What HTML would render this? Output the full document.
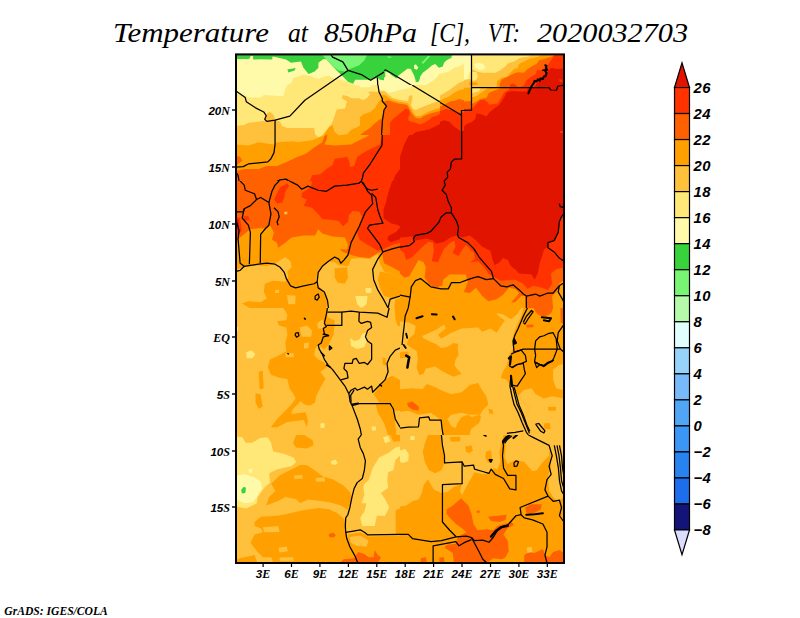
<!DOCTYPE html>
<html><head><meta charset="utf-8"><title>Temperature at 850hPa</title>
<style>
html,body{margin:0;padding:0;background:#fff;}
body{width:800px;height:618px;overflow:hidden;font-family:"Liberation Sans",sans-serif;}
svg{display:block;}
.title{font-family:"Liberation Serif",serif;font-style:italic;font-size:27.5px;fill:#000;}
.cbl{font-family:"Liberation Sans",sans-serif;font-style:italic;font-weight:bold;font-size:14.8px;fill:#000;letter-spacing:0.4px;}
.axl{font-family:"Liberation Sans",sans-serif;font-style:italic;font-weight:bold;font-size:11.6px;fill:#000;}
.axs{font-family:"Liberation Serif",serif;font-style:italic;font-weight:bold;font-size:12px;}
.foot{font-family:"Liberation Serif",serif;font-style:italic;font-weight:bold;font-size:12px;fill:#000;}
</style></head>
<body>
<svg width="800" height="618" viewBox="0 0 800 618" shape-rendering="geometricPrecision">
<rect x="0" y="0" width="800" height="618" fill="#ffffff"/>
<g class="title">
<text x="113" y="42" textLength="156" lengthAdjust="spacingAndGlyphs">Temperature</text>
<text x="288" y="42" textLength="20" lengthAdjust="spacingAndGlyphs">at</text>
<text x="324" y="42" textLength="93" lengthAdjust="spacingAndGlyphs">850hPa</text>
<text x="430" y="42" textLength="40" lengthAdjust="spacingAndGlyphs">[C],</text>
<text x="488" y="42" textLength="32" lengthAdjust="spacingAndGlyphs">VT:</text>
<text x="537" y="42" textLength="151" lengthAdjust="spacingAndGlyphs">2020032703</text>
</g>
<defs><clipPath id="mapclip"><rect x="235.5" y="54.5" width="328.5" height="508.5"/></clipPath></defs>
<g clip-path="url(#mapclip)">
<clipPath id="c0"><rect x="0" y="0" width="798" height="618.0"/></clipPath>
<g transform="translate(236,54) scale(0.20551)" clip-path="url(#c0)">
<rect x="-2" y="-2" width="802" height="622.0" fill="#fffaaa"/>
<polygon fill="#ffe878" points="0,190 40,200 60,212 120,212 135,200 230,205 240,170 250,150 270,140 280,115 330,100 350,105 400,120 430,110 450,105 480,120 510,125 540,135 580,150 600,155 650,150 690,160 700,175 720,180 750,195 780,185 798,180 798,618 0,618"/>
<polygon fill="#ffc03c" points="0,350 40,345 60,335 140,325 150,290 165,280 185,300 190,320 215,330 225,350 250,360 380,360 385,390 400,405 420,395 440,370 460,350 470,330 480,300 490,270 530,265 540,230 515,215 520,200 545,205 560,215 620,215 650,205 660,185 690,185 700,195 798,195 798,618 0,618"/>
<polygon fill="#ffa000" points="0,440 60,445 110,430 180,440 200,430 280,425 300,430 370,420 400,408 425,398 440,375 455,352 470,347 480,380 500,395 540,390 560,370 600,350 640,320 660,290 690,260 700,205 798,205 798,618 0,618"/>
<polygon fill="#ff6000" points="0,495 20,500 30,520 10,535 0,540"/>
<polygon fill="#ff6000" points="0,570 40,560 110,560 150,545 200,545 260,520 300,500 340,485 380,455 420,430 430,400 445,390 440,420 430,440 480,445 560,440 600,420 640,400 680,370 710,330 720,290 730,240 740,218 798,222 798,618 0,618"/>
<polygon fill="#ff3200" points="360,618 370,590 410,585 440,560 470,540 480,510 520,505 540,500 550,520 555,550 575,545 590,500 620,480 640,470 700,440 710,400 730,330 745,290 760,250 775,235 798,245 798,618"/>
<polygon fill="#e11400" points="765,618 775,590 790,570 798,560 798,618"/>
<polygon fill="#37d23c" points="0,0 0,24 64,24 72,10 82,9 84,27 120,25 176,27 178,12 190,14 243,27 268,43 316,36 328,67 353,97 383,85 401,67 401,43 426,24 440,25 470,60 500,90 520,110 545,135 570,145 580,125 620,125 650,125 690,115 700,125 720,128 725,100 740,80 760,85 780,100 798,110 798,0"/>
<polygon fill="#37d23c" points="250,75 290,68 285,80 255,90"/>
<polygon fill="#78f573" points="415,0 440,25 470,60 500,80 530,85 545,75 560,70 600,55 625,30 640,0"/>
<polyline fill="none" stroke="#000" stroke-width="6.1" stroke-linejoin="round" points="0,180 45,212 50,232 95,262 135,282 147,300 140,318 150,328 190,322 262,302 335,225 545,80"/>
<polyline fill="none" stroke="#000" stroke-width="6.1" stroke-linejoin="round" points="190,322 190,440 185,480 170,510 155,525 60,535 35,548 0,550"/>
<polyline fill="none" stroke="#000" stroke-width="6.1" stroke-linejoin="round" points="460,0 470,15 520,38 545,80 610,100 655,128 730,82 798,115"/>
<polyline fill="none" stroke="#000" stroke-width="6.1" stroke-linejoin="round" points="688,115 690,160 720,240 730,258 715,300 710,445 650,540 620,580 615,605 610,618"/>
<polyline fill="none" stroke="#000" stroke-width="6.1" stroke-linejoin="round" points="0,575 10,590 15,618"/>
<polyline fill="none" stroke="#000" stroke-width="6.1" stroke-linejoin="round" points="195,622 215,612 243,609 262,620"/>
</g>
<clipPath id="c1"><rect x="0" y="0" width="798" height="618.0"/></clipPath>
<g transform="translate(400,54) scale(0.20551)" clip-path="url(#c1)">
<rect x="-2" y="-2" width="802" height="622.0" fill="#e11400"/>
<polygon fill="#ff3200" points="0,500 20,440 40,400 60,380 130,365 180,340 210,320 250,330 265,365 300,345 340,335 370,320 375,290 400,300 420,300 440,280 480,250 510,220 520,190 540,170 620,165 640,150 680,120 700,100 798,100 798,0 0,0"/>
<polygon fill="#ff6000" points="0,265 20,275 35,300 45,330 90,345 130,335 180,310 240,290 290,285 300,260 348,250 370,225 420,215 440,195 500,170 520,165 550,130 580,110 620,90 660,70 690,50 720,30 740,10 745,0 0,0"/>
<polygon fill="#ffa000" points="0,245 20,260 40,295 55,320 100,322 150,300 200,275 240,250 280,225 300,215 320,200 345,185 350,210 400,195 440,175 480,165 520,135 540,105 570,85 600,70 640,45 660,25 690,10 700,0 0,0"/>
<polygon fill="#ffc03c" points="0,235 25,250 45,285 60,305 100,305 150,285 200,255 230,230 270,205 300,190 330,160 348,150 350,195 390,185 420,170 480,135 500,120 520,90 550,80 570,50 600,30 640,15 650,0 0,0"/>
<polygon fill="#ffe878" points="0,225 30,240 50,275 65,295 100,290 150,265 200,235 215,215 250,190 290,165 330,140 348,130 380,125 385,105 410,90 470,85 500,60 520,40 540,20 560,10 570,0 0,0"/>
<polygon fill="#fffaaa" points="0,170 30,180 45,200 40,240 55,265 70,278 100,272 150,245 180,215 210,195 250,170 290,140 330,125 348,115 348,0 0,0"/>
<polygon fill="#37d23c" points="0,0 250,0 245,20 215,45 210,60 185,65 150,60 130,75 105,80 110,100 95,110 90,135 75,135 70,105 50,85 45,70 0,90"/>
<polygon fill="#78f573" points="100,35 145,5 155,10 110,42"/>
<polygon fill="#ff3200" points="775,360 798,345 798,385 780,385"/>
<polyline fill="none" stroke="#000" stroke-width="6.1" stroke-linejoin="round" points="0,118 300,295"/>
<polyline fill="none" stroke="#000" stroke-width="6.1" stroke-linejoin="round" points="348,0 348,272 300,275 300,295 300,510 265,512 250,525 245,560 230,575 232,600 215,618"/>
<polyline fill="none" stroke="#000" stroke-width="6.1" stroke-linejoin="round" points="348,160 735,160 745,175 765,175 770,155 798,150"/>
</g>
<clipPath id="c2"><rect x="0" y="0" width="798" height="618.0"/></clipPath>
<g transform="translate(236,181) scale(0.20551)" clip-path="url(#c2)">
<rect x="-2" y="-2" width="802" height="622.0" fill="#ff6000"/>
<polygon fill="#ff3200" points="370,0 365,30 340,45 320,60 320,80 345,90 330,120 370,130 400,160 420,185 470,190 500,195 520,220 545,200 550,165 570,145 600,150 615,175 600,210 590,250 600,285 640,310 690,340 720,330 760,310 798,300 798,0"/>
<polygon fill="#e11400" points="760,0 740,60 730,102 718,139 718,181 754,206 791,215 800,224 779,248 742,266 736,285 754,297 791,285 800,283 800,0"/>
<polygon fill="#ff3200" points="200,110 185,90 200,60 215,30 250,12 258,25 240,50 235,80 225,105"/>
<polygon fill="#ff3200" points="35,172 60,170 65,190 40,195"/>
<polygon fill="#ff3200" points="0,175 20,180 28,240 15,260 0,262"/>
<polygon fill="#e11400" points="0,185 12,188 15,235 0,240"/>
<polygon fill="#ffa000" points="0,300 15,280 20,275 70,235 110,230 150,230 165,215 185,250 175,285 200,300 205,325 240,300 270,275 330,265 385,265 400,235 420,255 470,270 530,275 545,310 540,335 505,330 520,345 560,360 600,370 650,375 690,350 710,345 720,400 760,420 798,440 798,618 0,618"/>
<polygon fill="#ffc03c" points="0,430 40,420 100,410 150,415 200,395 240,370 265,390 270,420 250,440 255,470 240,490 180,485 140,500 135,540 150,570 120,590 60,585 20,600 0,590"/>
<polygon fill="#ffc03c" points="400,440 420,410 450,390 480,395 500,410 545,415 560,380 600,375 650,380 690,355 700,400 720,440 760,450 798,470 798,618 440,618 445,580 430,540 400,510 390,480"/>
<polygon fill="#ffa000" points="480,425 540,420 545,470 530,500 495,495 480,470"/>
<polygon fill="#ffa000" points="700,440 760,450 798,470 798,560 760,570 720,560 700,520 690,480"/>
<polygon fill="#ffe878" points="580,560 640,560 635,600 610,618 590,600"/>
<polygon fill="#ffe878" points="630,520 660,522 658,545 632,545"/>
<polygon fill="#ffc03c" points="248,555 290,558 288,598 255,600"/>
<polygon fill="#ffc03c" points="190,530 210,530 210,545 190,545"/>
<polygon fill="#ffc03c" points="235,150 250,150 250,162 235,162"/>
<polygon fill="#ffc03c" points="0,588 30,597 70,620 0,620"/>
<polygon fill="#ffa000" points="775,575 800,570 800,620 770,620"/>
<polyline fill="none" stroke="#000" stroke-width="6.1" stroke-linejoin="round" points="20,0 40,20 45,45 90,62 100,90 70,120 40,135 35,150 0,150"/>
<polyline fill="none" stroke="#000" stroke-width="6.1" stroke-linejoin="round" points="100,90 120,80 160,105 170,160 160,215 140,235 120,260 118,400"/>
<polyline fill="none" stroke="#000" stroke-width="6.1" stroke-linejoin="round" points="40,135 30,180 60,215 70,250 65,405"/>
<polyline fill="none" stroke="#000" stroke-width="6.1" stroke-linejoin="round" points="0,190 15,240 10,280 20,400 40,415"/>
<polyline fill="none" stroke="#000" stroke-width="6.1" stroke-linejoin="round" points="160,105 175,50 190,20 210,0"/>
<polyline fill="none" stroke="#000" stroke-width="6.1" stroke-linejoin="round" points="260,0 300,20 320,40 350,25 400,45 440,50 480,25 540,20 600,10 610,0"/>
<polyline fill="none" stroke="#000" stroke-width="6.1" stroke-linejoin="round" points="185,130 205,150 210,175 200,200 205,215"/>
<polyline fill="none" stroke="#000" stroke-width="6.1" stroke-linejoin="round" points="0,440 20,435 40,415 70,410 110,405 150,400 190,405 215,420 235,445 245,475 265,510 290,520 330,510 380,500 395,490 400,520 430,540 445,580 450,618"/>
<polyline fill="none" stroke="#000" stroke-width="6.1" stroke-linejoin="round" points="395,490 400,445 420,415 450,390 480,370 500,380 510,400 525,385 545,360 560,300 600,220 630,150 665,110 660,70 640,50 620,10 605,0"/>
<polyline fill="none" stroke="#000" stroke-width="6.1" stroke-linejoin="round" points="615,10 640,40 660,45 690,40"/>
<polyline fill="none" stroke="#000" stroke-width="6.1" stroke-linejoin="round" points="660,60 680,80 690,140 700,170 715,205 650,215 640,230 670,270 700,310 715,345 760,330 798,320"/>
<polyline fill="none" stroke="#000" stroke-width="6.1" stroke-linejoin="round" points="715,345 690,380 665,430 670,480 690,530 720,580 740,618 750,575 798,560"/>
<polyline fill="none" stroke="#000" stroke-width="6.1" stroke-linejoin="round" points="385,560 400,550 405,565 395,580 385,575 385,560"/>
</g>
<clipPath id="c3"><rect x="0" y="0" width="798" height="618.0"/></clipPath>
<g transform="translate(400,181) scale(0.20551)" clip-path="url(#c3)">
<rect x="-2" y="-2" width="802" height="622.0" fill="#e11400"/>
<polygon fill="#ff3200" points="0,275 60,270 75,290 130,280 160,290 175,305 215,295 245,275 275,265 300,275 340,265 370,290 400,320 440,340 450,380 460,410 485,395 500,375 525,385 540,415 560,430 580,450 640,455 655,480 670,450 680,400 690,370 700,335 720,320 715,300 750,290 770,250 775,200 790,170 798,165 798,618 0,618"/>
<polygon fill="#ff6000" points="0,335 20,350 30,385 60,370 90,340 120,310 140,295 160,300 165,340 155,390 185,395 200,360 215,330 245,300 265,290 270,320 255,350 285,365 300,340 320,310 340,330 360,350 365,380 340,395 380,390 410,420 430,450 460,470 490,485 560,480 600,500 620,525 650,510 690,520 720,530 740,500 735,450 760,430 798,420 798,618 0,618"/>
<polygon fill="#ffa000" points="0,450 20,470 45,465 70,420 90,385 115,395 125,420 120,470 140,500 170,520 205,510 210,480 240,455 320,455 330,490 320,520 310,540 340,545 370,520 400,560 430,585 470,575 500,555 530,520 560,525 580,545 560,570 540,590 560,590 590,560 610,560 610,618 0,618"/>
<polygon fill="#ffa000" points="745,618 740,560 760,540 775,500 798,480 798,618"/>
<polyline fill="none" stroke="#000" stroke-width="6.1" stroke-linejoin="round" points="215,0 220,20 205,45 225,65 235,100 250,130 250,155"/>
<polyline fill="none" stroke="#000" stroke-width="6.1" stroke-linejoin="round" points="250,155 225,155 200,175 190,200 150,245 130,255 75,265 65,280 70,295 45,315 0,322"/>
<polyline fill="none" stroke="#000" stroke-width="6.1" stroke-linejoin="round" points="250,155 275,195 285,225 280,260 285,275 330,300 360,330 385,370 410,400 445,440 455,475 490,510 520,515 550,505 580,530 600,550 615,560 660,550 680,560 720,545 745,545 775,510 798,495"/>
<polyline fill="none" stroke="#000" stroke-width="6.1" stroke-linejoin="round" points="455,475 420,480 380,465 360,470 330,480 290,495 250,495 235,525 200,525 150,515 120,490 100,475 75,485 55,515 50,560 40,618"/>
<polyline fill="none" stroke="#000" stroke-width="6.1" stroke-linejoin="round" points="0,555 50,565"/>
<polyline fill="none" stroke="#000" stroke-width="6.1" stroke-linejoin="round" points="615,560 615,618"/>
<polyline fill="none" stroke="#000" stroke-width="6.1" stroke-linejoin="round" points="775,110 780,125 798,130"/>
<polyline fill="none" stroke="#000" stroke-width="6.1" stroke-linejoin="round" points="798,160 785,175 775,200 770,250 750,290 720,300 720,325 750,345 775,375 798,390"/>
<polyline fill="none" stroke="#000" stroke-width="6.1" stroke-linejoin="round" points="775,510 770,540 790,575 798,590"/>
</g>
<clipPath id="c4"><rect x="0" y="0" width="798" height="618.0"/></clipPath>
<g transform="translate(236,308) scale(0.20551)" clip-path="url(#c4)">
<rect x="-2" y="-2" width="802" height="622.0" fill="#ffc03c"/>
<polygon fill="#ffa000" points="180,0 230,0 250,30 245,60 200,65 210,85 245,95 250,130 240,170 245,210 200,235 165,250 155,290 170,325 210,340 250,345 260,390 280,420 290,440 270,470 240,500 200,540 170,580 200,580 250,555 290,550 330,545 345,580 350,550 340,510 320,490 330,470 360,475 385,460 390,430 415,380 435,345 410,310 440,290 430,265 400,250 380,230 385,200 400,180 430,200 450,180 475,130 480,60 445,45 445,0"/>
<polygon fill="#ffc03c" points="310,95 345,85 370,110 365,140 320,140"/>
<polygon fill="#ffc03c" points="315,453 339,477 354,505 331,509 299,512 268,516 276,493 299,469"/>
<polygon fill="#ffc03c" points="330,172 355,168 352,195 332,198"/>
<polygon fill="#ffc03c" points="240,222 280,220 282,238 242,240"/>
<polygon fill="#ffc03c" points="395,75 420,55 430,75 425,100 400,100"/>
<polygon fill="#ffa000" points="110,310 130,305 135,390 115,395"/>
<polygon fill="#ffa000" points="95,415 120,420 130,480 110,490 95,460"/>
<polygon fill="#ffa000" points="670,420 700,380 740,340 760,330 798,350 798,500 770,500 760,470 700,465"/>
<polygon fill="#ffa000" points="680,470 750,468 770,520 780,618 740,618 720,560 690,510"/>
<polygon fill="#ffa000" points="712,240 728,245 730,280 715,275"/>
<polygon fill="#ffe878" points="555,145 575,160 600,155 615,125 630,120 640,150 625,190 590,200 560,185"/>
<polygon fill="#ffe878" points="50,215 75,205 95,225 80,245 52,245"/>
<polygon fill="#ffe878" points="410,562 430,560 432,582 412,585"/>
<polygon fill="#ffe878" points="660,577 680,575 682,595 662,597"/>
<polygon fill="#ffe878" points="0,90 10,92 10,112 0,112"/>
<polygon fill="#ffa000" points="772,0 800,0 800,90 785,85 775,50"/>
<polyline fill="none" stroke="#000" stroke-width="6.1" stroke-linejoin="round" points="445,0 440,30 430,75 440,90 425,100 430,125 450,135 425,140 415,170 400,180 405,200 420,225 430,250 450,280 470,300 500,340 530,380 550,420 555,455 565,475 590,540 605,590 610,618"/>
<polyline fill="none" stroke="#000" stroke-width="6.1" stroke-linejoin="round" points="445,20 515,20 515,85 440,85"/>
<polyline fill="none" stroke="#000" stroke-width="6.1" stroke-linejoin="round" points="515,20 560,15 600,20 690,25 735,45 745,0"/>
<polyline fill="none" stroke="#000" stroke-width="6.1" stroke-linejoin="round" points="600,20 598,65 610,75 640,65 655,70 660,95 640,110 630,140 640,160 660,175 660,250 640,275 625,265 600,270 585,245 570,250 565,270 530,270 525,295 540,310 545,340 510,350"/>
<polyline fill="none" stroke="#000" stroke-width="6.1" stroke-linejoin="round" points="550,415 560,400 580,390 590,400 625,385 640,395 660,380 665,410 700,375 725,350 740,310 735,270 750,235 775,205 798,195"/>
<polyline fill="none" stroke="#000" stroke-width="6.1" stroke-linejoin="round" points="575,400 558,425 560,460"/>
<polyline fill="none" stroke="#000" stroke-width="6.1" stroke-linejoin="round" points="565,475 600,465 750,465 765,490 775,540 798,580"/>
<polyline fill="none" stroke="#000" stroke-width="6.1" stroke-linejoin="round" points="290,122 303,120 306,135 295,142 288,132 290,122"/>
<polyline fill="none" stroke="#000" stroke-width="7.3" stroke-linejoin="round" stroke-linecap="round" points="333,50 337,54"/>
<polyline fill="none" stroke="#000" stroke-width="5.8" stroke-linejoin="round" stroke-linecap="round" points="252,222 256,224"/>
<polyline fill="none" stroke="#000" stroke-width="7.3" stroke-linejoin="round" stroke-linecap="round" points="455,185 466,195 455,203 455,185"/>
<polyline fill="none" stroke="#000" stroke-width="7.3" stroke-linejoin="round" stroke-linecap="round" points="700,372 708,380"/>
<polyline fill="none" stroke="#000" stroke-width="7.3" stroke-linejoin="round" stroke-linecap="round" points="425,128 450,134"/>
<polyline fill="none" stroke="#000" stroke-width="7.3" stroke-linejoin="round" stroke-linecap="round" points="415,218 430,232"/>
<polyline fill="none" stroke="#000" stroke-width="7.3" stroke-linejoin="round" stroke-linecap="round" points="440,278 458,288"/>
<polyline fill="none" stroke="#000" stroke-width="7.3" stroke-linejoin="round" stroke-linecap="round" points="565,468 595,464"/>
</g>
<clipPath id="c5"><rect x="0" y="0" width="798" height="618.0"/></clipPath>
<g transform="translate(400,308) scale(0.20551)" clip-path="url(#c5)">
<rect x="-2" y="-2" width="802" height="622.0" fill="#ffa000"/>
<polygon fill="#ffc03c" points="110,135 170,110 215,80 222,100 185,130 200,150 250,120 300,100 380,95 400,115 440,100 470,120 490,90 510,60 480,40 470,25 500,30 540,55 570,30 590,0 600,0 590,40 570,80 555,120 545,160 550,200 530,230 520,280 500,310 490,340 520,350 540,380 560,400 575,430 600,460 630,480 620,520 600,540 610,580 640,600 640,618 340,618 345,590 385,560 395,530 385,520 350,530 330,520 300,530 280,560 270,585 250,575 230,540 250,520 300,510 340,520 390,520 400,500 430,470 420,430 400,400 380,365 340,375 300,410 250,420 200,400 170,385 130,370 110,395 60,390 0,395 0,360 50,350 85,330 115,320 125,295 170,285 210,310 260,335 300,320 280,300 265,280 270,250 285,230 280,190 285,175 260,170 230,190 200,195 175,175 140,160 110,145"/>
<polygon fill="#ffc03c" points="0,66 43,71 76,88 70,127 43,149 32,176 54,193 81,209 87,248 81,292 98,336 85,345 0,365"/>
<polygon fill="#ffa000" points="0,215 40,212 45,240 0,245"/>
<polygon fill="#ffc03c" points="0,505 40,500 90,520 150,510 180,530 200,545 205,590 210,618 0,618"/>
<polygon fill="#ffc03c" points="575,430 600,400 640,390 660,420 700,440 740,430 798,440 798,618 640,618 640,600 610,580 600,540 620,520 630,480 600,460"/>
<polygon fill="#ffc03c" points="745,300 770,280 798,270 798,400 760,390 745,350"/>
<polygon fill="#ffa000" points="720,482 760,480 758,500 722,500"/>
<polygon fill="#ffa000" points="700,562 730,560 732,590 702,590"/>
<polygon fill="#ffa000" points="430,490 450,495 455,515 435,515"/>
<polygon fill="#ff6000" points="35,462 60,455 92,480 90,500 60,495 38,478"/>
<polygon fill="#ff6000" points="650,0 745,0 735,25 710,40 680,38 660,20"/>
<polygon fill="#ff6000" points="780,0 798,0 798,80 782,70"/>
<polygon fill="#ff6000" points="615,82 648,80 650,94 617,95"/>
<polyline fill="none" stroke="#000" stroke-width="6.1" stroke-linejoin="round" points="40,0 25,40 20,90 15,130 10,180"/>
<polyline fill="none" stroke="#000" stroke-width="6.1" stroke-linejoin="round" points="0,585 40,580 90,578 95,535 140,530 145,545 200,545 205,590 210,618"/>
<polyline fill="none" stroke="#000" stroke-width="6.1" stroke-linejoin="round" points="620,0 600,40 575,100 560,130 550,160 555,215"/>
<polyline fill="none" stroke="#000" stroke-width="6.1" stroke-linejoin="round" points="555,215 600,200 780,200 798,215"/>
<polyline fill="none" stroke="#000" stroke-width="6.1" stroke-linejoin="round" points="798,80 770,120 765,160 780,200"/>
<polyline fill="none" stroke="#000" stroke-width="6.1" stroke-linejoin="round" points="540,225 560,215 590,205 610,230 615,260 590,270 570,275 545,290 530,280"/>
<polyline fill="none" stroke="#000" stroke-width="6.1" stroke-linejoin="round" points="545,290 570,275 600,270 605,300 610,320 590,350 570,380 545,375 540,330"/>
<polyline fill="none" stroke="#000" stroke-width="6.1" stroke-linejoin="round" points="660,160 680,140 700,135 720,125 745,120 760,150 765,200 750,240 740,260 720,270 700,285 680,275 665,290 655,260 660,230 655,200 660,160"/>
<polyline fill="none" stroke="#000" stroke-width="6.1" stroke-linejoin="round" points="600,70 615,40 640,12 648,18 625,50 608,78 600,70"/>
<polyline fill="none" stroke="#000" stroke-width="6.1" stroke-linejoin="round" points="540,330 535,380 545,430 555,470 575,510 595,560 615,605 625,618"/>
<polyline fill="none" stroke="#000" stroke-width="6.1" stroke-linejoin="round" points="548,380 560,430 570,470 590,510 610,560 630,610"/>
<polyline fill="none" stroke="#000" stroke-width="6.1" stroke-linejoin="round" points="555,385 568,430 580,475 600,520 618,570 632,600"/>
<polyline fill="none" stroke="#000" stroke-width="6.1" stroke-linejoin="round" points="520,610 560,605 600,598"/>
<polyline fill="none" stroke="#000" stroke-width="6.1" stroke-linejoin="round" points="660,565 675,562 705,598 700,608 685,600 660,565"/>
<polyline fill="none" stroke="#000" stroke-width="12.2" stroke-linejoin="round" stroke-linecap="round" points="30,232 45,240 40,265 36,290"/>
<polyline fill="none" stroke="#000" stroke-width="9.7" stroke-linejoin="round" stroke-linecap="round" points="80,50 110,40"/>
<polyline fill="none" stroke="#000" stroke-width="9.7" stroke-linejoin="round" stroke-linecap="round" points="155,30 178,32"/>
<polyline fill="none" stroke="#000" stroke-width="9.7" stroke-linejoin="round" stroke-linecap="round" points="258,42 266,55"/>
<polyline fill="none" stroke="#000" stroke-width="8.8" stroke-linejoin="round" stroke-linecap="round" points="30,125 35,145"/>
<polyline fill="none" stroke="#000" stroke-width="8.8" stroke-linejoin="round" stroke-linecap="round" points="18,180 28,195"/>
<polyline fill="none" stroke="#000" stroke-width="10.7" stroke-linejoin="round" stroke-linecap="round" points="530,245 540,235 535,275"/>
<polyline fill="none" stroke="#000" stroke-width="10.7" stroke-linejoin="round" stroke-linecap="round" points="540,330 545,380"/>
<polyline fill="none" stroke="#000" stroke-width="8.8" stroke-linejoin="round" stroke-linecap="round" points="555,150 565,170 555,175 555,150"/>
<polyline fill="none" stroke="#000" stroke-width="9.7" stroke-linejoin="round" stroke-linecap="round" points="690,45 735,50 725,65 700,60"/>
<polyline fill="none" stroke="#000" stroke-width="7.8" stroke-linejoin="round" stroke-linecap="round" points="660,265 680,275 700,280 720,265 745,255"/>
</g>
<clipPath id="c6"><rect x="0" y="0" width="792" height="618.1"/></clipPath>
<g transform="translate(236,435) scale(0.20707)" clip-path="url(#c6)">
<rect x="-2" y="-2" width="796" height="622.1" fill="#ffc03c"/>
<polygon fill="#ffe878" points="0,7 31,11 47,38 78,38 117,15 152,11 168,34 180,80 230,90 280,110 290,130 270,150 200,165 160,185 165,230 140,250 105,300 100,330 50,355 0,345"/>
<polygon fill="#fffaaa" points="0,195 40,190 90,205 120,225 125,260 100,300 80,325 40,330 0,310"/>
<polygon fill="#fffaaa" points="62,165 78,163 78,182 62,182"/>
<polygon fill="#37d23c" points="25,265 38,250 48,255 45,280 28,282"/>
<polygon fill="#ffe878" points="620,235 640,220 660,160 690,110 740,85 770,60 792,55 792,100 770,120 760,170 735,180 730,220 735,255 700,280 720,310 740,350 720,390 680,390 670,440 610,440 600,400 620,370 630,330 605,330 620,290 615,255"/>
<polygon fill="#ffe878" points="460,125 480,118 492,135 478,145 460,140"/>
<polygon fill="#ffe878" points="710,10 735,5 745,30 720,40"/>
<polygon fill="#ffa000" points="145,340 160,300 190,270 170,235 210,195 260,170 310,145 340,145 380,170 420,200 470,215 520,245 550,275 560,300 550,330 540,360 500,338 450,325 400,318 350,312 310,328 290,310 240,300 200,320"/>
<polygon fill="#ffa000" points="90,420 120,395 200,390 260,378 330,362 400,352 450,358 490,378 525,408 530,460 545,520 570,570 585,618 180,618 170,590 130,590 100,560 70,520 90,480 130,470 120,450 90,440"/>
<polygon fill="#ffc03c" points="280,195 320,192 322,210 282,212"/>
<polygon fill="#ffc03c" points="385,208 428,205 430,225 388,226"/>
<polygon fill="#ffa000" points="290,0 330,0 370,25 375,50 340,65 290,60 275,40"/>
<polygon fill="#ffa000" points="0,600 40,590 90,580 100,610 100,618 0,618"/>
<polygon fill="#ffc03c" points="205,545 245,538 250,562 210,567"/>
<polygon fill="#ffc03c" points="210,592 275,590 280,608 212,610"/>
<polygon fill="#ffc03c" points="130,445 205,440 210,468 135,470"/>
<polygon fill="#ffa000" points="540,480 600,470 640,490 792,485 792,618 585,618 560,560 545,520"/>
<polygon fill="#ffc03c" points="548,492 600,485 640,510 630,540 580,535 555,520"/>
<polygon fill="#ff6000" points="500,618 520,600 570,595 590,565 620,575 640,590 665,590 670,555 685,580 700,590 690,610 680,618"/>
<polygon fill="#ff6000" points="448,478 470,472 482,485 470,495 450,492"/>
<polygon fill="#ffa000" points="770,365 792,355 792,485 772,478"/>
<polygon fill="#ffa000" points="745,0 792,0 792,30 760,32"/>
<polyline fill="none" stroke="#000" stroke-width="6.0" stroke-linejoin="round" points="605,0 590,20 600,60 615,90 625,125 620,170 610,210 585,230 570,260 560,300 550,350 540,385 530,400 528,440 530,470 535,500 550,540 575,585 588,618"/>
<polyline fill="none" stroke="#000" stroke-width="6.0" stroke-linejoin="round" points="530,470 560,465 600,458 620,470 635,482 792,480"/>
</g>
<clipPath id="c7"><rect x="0" y="0" width="792" height="618.1"/></clipPath>
<g transform="translate(400,435) scale(0.20707)" clip-path="url(#c7)">
<rect x="-2" y="-2" width="796" height="622.1" fill="#ffa000"/>
<polygon fill="#ffc03c" points="0,0 135,0 120,40 110,80 120,130 140,170 170,185 200,170 215,135 300,130 300,235 260,250 230,275 200,280 165,265 150,240 135,215 115,240 105,280 90,310 60,320 30,340 0,345"/>
<polygon fill="#ffc03c" points="200,0 500,0 490,40 480,80 485,130 470,165 450,160 440,180 400,190 360,180 340,215 320,250 300,290 290,270 300,235 300,130 215,135 215,100 200,50"/>
<polygon fill="#ffa000" points="240,10 290,8 292,30 245,32"/>
<polygon fill="#ffa000" points="315,55 345,50 352,75 335,88 318,80"/>
<polygon fill="#ffa000" points="415,80 440,75 445,120 425,135 412,110"/>
<polygon fill="#ffc03c" points="510,20 560,0 792,0 792,45 725,50 720,100 690,130 660,170 640,175 600,130 560,120 520,140 505,110 510,60"/>
<polygon fill="#ffc03c" points="725,50 792,40 792,300 760,320 740,300 720,270 715,200 730,150"/>
<polygon fill="#ffe878" points="0,75 25,68 42,90 40,125 15,135 0,130"/>
<polygon fill="#ffe878" points="50,6 70,5 70,24 50,24"/>
<polygon fill="#ff6000" points="225,360 255,340 295,305 330,340 345,380 355,430 375,460 420,455 450,460 470,440 500,430 540,420 550,435 520,450 500,480 520,510 525,560 510,590 490,600 450,595 420,618 260,618 255,570 215,545 225,530 270,525 280,490 300,480 320,470 300,450 270,430 240,400 225,380"/>
<polygon fill="#ff6000" points="425,395 470,390 515,385 510,410 480,420 440,415"/>
<polygon fill="#ff6000" points="605,350 630,335 685,335 680,360 640,380 610,375"/>
<polygon fill="#ff6000" points="600,618 600,580 625,565 650,570 690,550 700,580 720,590 740,565 770,555 792,570 792,618"/>
<polygon fill="#ffc03c" points="612,545 635,540 640,565 615,570"/>
<polygon fill="#ff6000" points="100,595 125,590 130,618 100,618"/>
<polygon fill="#ff6000" points="190,592 212,590 216,618 190,618"/>
<polygon fill="#ff6000" points="370,366 385,365 385,376 370,376"/>
<polyline fill="none" stroke="#000" stroke-width="6.0" stroke-linejoin="round" points="200,0 205,50 215,100 215,135 300,130 300,235 205,240 205,420 240,460 270,490"/>
<polyline fill="none" stroke="#000" stroke-width="6.0" stroke-linejoin="round" points="0,480 40,480 60,500 150,515 200,510 270,492 320,488 345,495 360,510 400,508 430,518 450,495 465,470 480,450 500,440 520,435 560,390 585,385"/>
<polyline fill="none" stroke="#000" stroke-width="6.0" stroke-linejoin="round" points="160,618 160,535 270,515 285,535 310,520 345,505"/>
<polyline fill="none" stroke="#000" stroke-width="6.0" stroke-linejoin="round" points="300,130 310,150 355,145 360,165 395,175 430,185 440,165 460,190 500,210 530,260 560,265 560,195 520,195 500,160 495,100 500,50 495,30"/>
<polyline fill="none" stroke="#000" stroke-width="6.0" stroke-linejoin="round" points="345,495 380,560 400,600 420,618"/>
<polyline fill="none" stroke="#000" stroke-width="6.0" stroke-linejoin="round" points="585,385 580,350 715,295 700,265 710,215 730,190 720,150 735,100 720,50 640,10 620,0"/>
<polyline fill="none" stroke="#000" stroke-width="6.0" stroke-linejoin="round" points="585,385 600,400 640,410 690,430 710,470 710,540 700,580 710,618"/>
<polyline fill="none" stroke="#000" stroke-width="6.0" stroke-linejoin="round" points="715,295 740,320 770,315 780,350 770,390 792,420"/>
<polyline fill="none" stroke="#000" stroke-width="6.0" stroke-linejoin="round" points="745,50 755,100 765,160 770,220 780,270 792,290"/>
<polyline fill="none" stroke="#000" stroke-width="6.0" stroke-linejoin="round" points="758,50 768,100 775,160 780,220 792,260"/>
<polyline fill="none" stroke="#000" stroke-width="6.0" stroke-linejoin="round" points="770,50 780,100 785,160 792,200"/>
<polyline fill="none" stroke="#000" stroke-width="6.0" stroke-linejoin="round" points="550,135 560,125 572,130 565,150 552,152 550,135"/>
<polyline fill="none" stroke="#000" stroke-width="6.0" stroke-linejoin="round" points="495,30 510,10 530,0"/>
<polyline fill="none" stroke="#000" stroke-width="6.0" stroke-linejoin="round" points="505,40 520,20 540,5"/>
<polyline fill="none" stroke="#000" stroke-width="12.1" stroke-linejoin="round" stroke-linecap="round" points="440,490 465,462 490,445 520,438"/>
<polyline fill="none" stroke="#000" stroke-width="9.7" stroke-linejoin="round" stroke-linecap="round" points="610,385 650,383 690,378"/>
<polyline fill="none" stroke="#000" stroke-width="10.6" stroke-linejoin="round" stroke-linecap="round" points="498,35 515,15 528,2"/>
<polyline fill="none" stroke="#000" stroke-width="9.7" stroke-linejoin="round" stroke-linecap="round" points="548,15 565,0"/>
<polyline fill="none" stroke="#000" stroke-width="8.7" stroke-linejoin="round" stroke-linecap="round" points="432,120 438,130 444,120 432,120"/>
<polyline fill="none" stroke="#000" stroke-width="7.7" stroke-linejoin="round" stroke-linecap="round" points="405,0 415,5"/>
</g>
<clipPath id="c8"><rect x="0" y="0" width="800" height="616.0"/></clipPath>
<g transform="translate(384,54) scale(0.12500)" clip-path="url(#c8)">
<rect x="-2" y="-2" width="804" height="620.0" fill="#fffaaa"/>
<polygon fill="#ffe878" points="0,285 30,300 60,305 100,290 150,280 200,270 260,285 300,290 330,280 345,240 380,220 420,190 440,160 480,150 520,140 560,110 600,100 640,80 680,60 700,50 800,50 800,616 0,616"/>
<polygon fill="#ffc03c" points="0,315 40,335 90,350 150,340 190,345 195,330 230,335 225,380 215,410 230,445 260,430 300,410 340,390 370,380 400,360 430,340 470,320 520,290 560,260 600,230 640,215 670,195 700,190 800,190 800,616 0,616"/>
<polygon fill="#ffa000" points="0,335 30,355 80,370 150,365 195,385 205,420 225,470 260,460 300,440 350,420 380,410 420,390 480,355 520,340 560,310 600,290 640,280 660,260 700,250 800,250 800,616 0,616"/>
<polygon fill="#ff6000" points="0,355 30,370 80,385 150,385 185,400 195,430 215,480 240,495 280,480 340,455 400,440 450,420 490,400 530,380 580,370 600,360 640,370 680,350 700,340 800,340 800,616 0,616"/>
<polygon fill="#ff3200" points="0,475 30,460 45,420 40,385 80,395 150,395 180,420 190,460 195,500 215,520 240,515 300,500 340,480 400,470 450,455 500,440 550,450 600,470 625,470 660,460 695,450 700,400 740,380 770,350 800,330 800,616 0,616"/>
<polygon fill="#e11400" points="300,616 330,590 380,580 430,550 480,530 520,540 560,580 590,600 610,616"/>
<polygon fill="#e11400" points="740,616 730,560 740,500 770,480 800,470 800,616"/>
<polygon fill="#37d23c" points="0,0 545,0 540,30 500,50 480,70 470,100 440,110 410,80 385,90 350,120 310,150 290,180 280,220 255,225 250,200 240,170 215,120 190,115 150,145 110,175 100,195 60,170 40,150 10,140 10,185 0,185"/>
<polygon fill="#fffaaa" points="240,90 255,82 275,110 262,125 242,118"/>
<polygon fill="#78f573" points="300,70 355,12 370,18 312,80"/>
<polygon fill="#78f573" points="30,18 60,22 55,32 28,28"/>
<polyline fill="none" stroke="#000" stroke-width="10.0" stroke-linejoin="round" points="0,132 15,128 620,490"/>
<polyline fill="none" stroke="#000" stroke-width="10.0" stroke-linejoin="round" points="698,0 698,450 620,452 620,616"/>
<polyline fill="none" stroke="#000" stroke-width="10.0" stroke-linejoin="round" points="698,268 800,268"/>
<polyline fill="none" stroke="#000" stroke-width="10.0" stroke-linejoin="round" points="0,395 15,410 20,430 10,450 0,455"/>
</g>
<clipPath id="c9"><rect x="0" y="0" width="800" height="616.0"/></clipPath>
<g transform="translate(464,54) scale(0.12500)" clip-path="url(#c9)">
<rect x="-2" y="-2" width="804" height="620.0" fill="#ffe878"/>
<polygon fill="#fffaaa" points="80,80 110,70 150,78 168,100 160,122 120,128 90,110"/>
<polygon fill="#fffaaa" points="0,0 57,0 57,140 40,150 30,200 0,210"/>
<polygon fill="#ffc03c" points="0,205 57,200 60,130 80,125 100,140 150,150 250,150 290,130 330,100 350,75 400,60 450,30 520,20 530,10 800,10 800,616 0,616"/>
<polygon fill="#ffe878" points="62,140 100,145 112,180 95,210 62,215"/>
<polygon fill="#ffe878" points="62,272 135,272 120,295 80,310 62,315"/>
<polygon fill="#ffa000" points="40,228 105,225 110,245 45,250"/>
<polygon fill="#ffa000" points="0,270 57,268 62,345 100,335 140,305 170,285 200,270 260,268 265,215 300,190 350,180 370,150 400,120 430,110 440,80 480,60 520,40 600,20 610,10 800,10 800,616 0,616"/>
<polygon fill="#ff6000" points="0,380 57,375 62,400 100,380 130,360 180,350 200,310 250,290 300,270 285,268 285,240 300,205 340,185 380,165 400,155 430,145 480,150 500,125 540,100 580,80 600,50 640,40 700,20 720,10 800,10 800,616 0,616"/>
<polygon fill="#ff3200" points="0,440 57,435 62,440 100,400 130,370 160,365 190,385 200,405 270,395 290,360 320,310 350,290 370,270 365,262 372,242 400,235 420,255 440,268 480,250 500,210 540,180 575,160 585,130 620,130 660,100 690,60 710,30 725,10 800,10 800,616 0,616"/>
<polygon fill="#e11400" points="800,115 740,120 700,110 680,125 660,150 640,165 600,215 580,240 560,268 510,275 500,300 440,300 380,295 340,310 320,350 280,410 250,430 200,470 180,500 130,480 100,475 90,520 60,545 20,560 0,580 0,616 800,616"/>
<polygon fill="#ff3200" points="760,200 785,205 790,225 765,222"/>
<polyline fill="none" stroke="#000" stroke-width="10.0" stroke-linejoin="round" points="60,0 60,450 0,452"/>
<polyline fill="none" stroke="#000" stroke-width="10.0" stroke-linejoin="round" points="60,268 680,268 695,288 740,290 750,258 800,248"/>
<polyline fill="none" stroke="#000" stroke-width="16.0" stroke-linejoin="round" stroke-linecap="round" points="515,315 530,280 545,250 560,230 565,215 580,220 590,205 605,212 612,195 630,200 640,180 655,175 660,150 650,135 665,125 655,110 660,95 650,90"/>
<polyline fill="none" stroke="#000" stroke-width="12.0" stroke-linejoin="round" stroke-linecap="round" points="630,130 665,125"/>
<polyline fill="none" stroke="#000" stroke-width="12.0" stroke-linejoin="round" stroke-linecap="round" points="590,200 605,215"/>
</g>
<clipPath id="c10"><rect x="0" y="0" width="800" height="500.0"/></clipPath>
<g transform="translate(360,85) scale(0.10000)" clip-path="url(#c10)">
<rect x="-2" y="-2" width="804" height="504.0" fill="#ffe878"/>
<polygon fill="#fffaaa" points="185,0 520,0 500,30 450,40 400,50 330,70 290,80 260,65 240,50 200,55"/>
<polygon fill="#fffaaa" points="0,0 130,0 100,20 0,25"/>
<polygon fill="#ffc03c" points="0,140 40,150 80,120 100,90 80,70 110,65 180,70 200,60 250,65 280,95 330,130 400,150 480,160 490,110 520,100 525,130 510,200 530,240 560,250 600,230 650,210 700,190 760,170 800,150 800,500 0,500"/>
<polygon fill="#ffa000" points="0,320 40,290 100,270 150,230 180,180 200,150 215,110 230,100 260,105 290,130 330,150 380,165 440,175 480,185 500,220 520,250 540,290 560,310 600,310 650,285 700,260 760,240 800,230 800,500 0,500"/>
<polygon fill="#ff6000" points="0,500 40,470 100,430 140,390 190,350 225,330 235,260 255,230 262,210 240,180 250,160 290,155 330,170 380,185 430,190 470,200 490,230 510,270 530,300 560,330 600,335 640,310 700,285 760,270 800,260 800,500"/>
<polygon fill="#ff3200" points="300,500 300,380 330,340 380,300 430,260 460,235 490,250 500,290 480,330 490,360 530,370 560,380 600,395 640,380 690,350 720,320 760,310 800,290 800,500"/>
<polygon fill="#e11400" points="520,500 560,470 640,455 700,440 760,410 800,390 800,500"/>
<polyline fill="none" stroke="#000" stroke-width="12.5" stroke-linejoin="round" points="180,0 190,70 225,140 222,160 265,212 240,250 225,350 215,500"/>
<polyline fill="none" stroke="#000" stroke-width="12.5" stroke-linejoin="round" points="520,0 800,170"/>
</g>
</g>
<rect x="236" y="54.4" width="328" height="508.6" fill="none" stroke="#000" stroke-width="2"/>
<line x1="232" y1="110" x2="236" y2="110" stroke="#000" stroke-width="1.4"/>
<text x="230" y="114.5" class="axl" text-anchor="end">20<tspan class="axs">N</tspan></text>
<line x1="232" y1="167" x2="236" y2="167" stroke="#000" stroke-width="1.4"/>
<text x="230" y="171.5" class="axl" text-anchor="end">15<tspan class="axs">N</tspan></text>
<line x1="232" y1="224" x2="236" y2="224" stroke="#000" stroke-width="1.4"/>
<text x="230" y="228.5" class="axl" text-anchor="end">10<tspan class="axs">N</tspan></text>
<line x1="232" y1="281" x2="236" y2="281" stroke="#000" stroke-width="1.4"/>
<text x="230" y="285.5" class="axl" text-anchor="end">5<tspan class="axs">N</tspan></text>
<line x1="232" y1="337" x2="236" y2="337" stroke="#000" stroke-width="1.4"/>
<text x="230" y="341.5" class="axl" text-anchor="end"><tspan class="axs">EQ</tspan></text>
<line x1="232" y1="394" x2="236" y2="394" stroke="#000" stroke-width="1.4"/>
<text x="230" y="398.5" class="axl" text-anchor="end">5<tspan class="axs">S</tspan></text>
<line x1="232" y1="451" x2="236" y2="451" stroke="#000" stroke-width="1.4"/>
<text x="230" y="455.5" class="axl" text-anchor="end">10<tspan class="axs">S</tspan></text>
<line x1="232" y1="507" x2="236" y2="507" stroke="#000" stroke-width="1.4"/>
<text x="230" y="511.5" class="axl" text-anchor="end">15<tspan class="axs">S</tspan></text>
<line x1="263.1" y1="563" x2="263.1" y2="567" stroke="#000" stroke-width="1.2"/>
<text x="263.1" y="577.7" class="axl" text-anchor="middle">3<tspan class="axs">E</tspan></text>
<line x1="291.5" y1="563" x2="291.5" y2="567" stroke="#000" stroke-width="1.2"/>
<text x="291.5" y="577.7" class="axl" text-anchor="middle">6<tspan class="axs">E</tspan></text>
<line x1="319.9" y1="563" x2="319.9" y2="567" stroke="#000" stroke-width="1.2"/>
<text x="319.9" y="577.7" class="axl" text-anchor="middle">9<tspan class="axs">E</tspan></text>
<line x1="348.4" y1="563" x2="348.4" y2="567" stroke="#000" stroke-width="1.2"/>
<text x="348.4" y="577.7" class="axl" text-anchor="middle">12<tspan class="axs">E</tspan></text>
<line x1="376.8" y1="563" x2="376.8" y2="567" stroke="#000" stroke-width="1.2"/>
<text x="376.8" y="577.7" class="axl" text-anchor="middle">15<tspan class="axs">E</tspan></text>
<line x1="405.2" y1="563" x2="405.2" y2="567" stroke="#000" stroke-width="1.2"/>
<text x="405.2" y="577.7" class="axl" text-anchor="middle">18<tspan class="axs">E</tspan></text>
<line x1="433.6" y1="563" x2="433.6" y2="567" stroke="#000" stroke-width="1.2"/>
<text x="433.6" y="577.7" class="axl" text-anchor="middle">21<tspan class="axs">E</tspan></text>
<line x1="462.0" y1="563" x2="462.0" y2="567" stroke="#000" stroke-width="1.2"/>
<text x="462.0" y="577.7" class="axl" text-anchor="middle">24<tspan class="axs">E</tspan></text>
<line x1="490.5" y1="563" x2="490.5" y2="567" stroke="#000" stroke-width="1.2"/>
<text x="490.5" y="577.7" class="axl" text-anchor="middle">27<tspan class="axs">E</tspan></text>
<line x1="518.9" y1="563" x2="518.9" y2="567" stroke="#000" stroke-width="1.2"/>
<text x="518.9" y="577.7" class="axl" text-anchor="middle">30<tspan class="axs">E</tspan></text>
<line x1="547.3" y1="563" x2="547.3" y2="567" stroke="#000" stroke-width="1.2"/>
<text x="547.3" y="577.7" class="axl" text-anchor="middle">33<tspan class="axs">E</tspan></text>
<rect x="674.5" y="87.50" width="15.0" height="26.03" fill="#ff3200" stroke="#000" stroke-width="1.2"/>
<rect x="674.5" y="113.53" width="15.0" height="26.03" fill="#ff6000" stroke="#000" stroke-width="1.2"/>
<rect x="674.5" y="139.56" width="15.0" height="26.03" fill="#ffa000" stroke="#000" stroke-width="1.2"/>
<rect x="674.5" y="165.59" width="15.0" height="26.03" fill="#ffc03c" stroke="#000" stroke-width="1.2"/>
<rect x="674.5" y="191.62" width="15.0" height="26.03" fill="#ffe878" stroke="#000" stroke-width="1.2"/>
<rect x="674.5" y="217.65" width="15.0" height="26.03" fill="#fffaaa" stroke="#000" stroke-width="1.2"/>
<rect x="674.5" y="243.68" width="15.0" height="26.03" fill="#37d23c" stroke="#000" stroke-width="1.2"/>
<rect x="674.5" y="269.71" width="15.0" height="26.03" fill="#78f573" stroke="#000" stroke-width="1.2"/>
<rect x="674.5" y="295.74" width="15.0" height="26.03" fill="#b4faaa" stroke="#000" stroke-width="1.2"/>
<rect x="674.5" y="321.77" width="15.0" height="26.03" fill="#e1ffff" stroke="#000" stroke-width="1.2"/>
<rect x="674.5" y="347.80" width="15.0" height="26.03" fill="#96d2fa" stroke="#000" stroke-width="1.2"/>
<rect x="674.5" y="373.83" width="15.0" height="26.03" fill="#78b9fa" stroke="#000" stroke-width="1.2"/>
<rect x="674.5" y="399.86" width="15.0" height="26.03" fill="#50a5f5" stroke="#000" stroke-width="1.2"/>
<rect x="674.5" y="425.89" width="15.0" height="26.03" fill="#3c96f5" stroke="#000" stroke-width="1.2"/>
<rect x="674.5" y="451.92" width="15.0" height="26.03" fill="#2882f0" stroke="#000" stroke-width="1.2"/>
<rect x="674.5" y="477.95" width="15.0" height="26.03" fill="#1e6eeb" stroke="#000" stroke-width="1.2"/>
<rect x="674.5" y="503.98" width="15.0" height="26.03" fill="#141478" stroke="#000" stroke-width="1.2"/>
<polygon points="674.5,87.5 682.0,62.8 689.5,87.5" fill="#e11400" stroke="#000" stroke-width="1.2" stroke-linejoin="miter"/>
<polygon points="674.5,530.01 682.0,554.71 689.5,530.01" fill="#dcdcff" stroke="#000" stroke-width="1.2"/>
<text x="693.5" y="92.9" class="cbl">26</text>
<text x="693.5" y="118.9" class="cbl">24</text>
<text x="693.5" y="145.0" class="cbl">22</text>
<text x="693.5" y="171.0" class="cbl">20</text>
<text x="693.5" y="197.0" class="cbl">18</text>
<text x="693.5" y="223.1" class="cbl">16</text>
<text x="693.5" y="249.1" class="cbl">14</text>
<text x="693.5" y="275.1" class="cbl">12</text>
<text x="693.5" y="301.1" class="cbl">10</text>
<text x="693.5" y="327.2" class="cbl">8</text>
<text x="693.5" y="353.2" class="cbl">6</text>
<text x="693.5" y="379.2" class="cbl">4</text>
<text x="693.5" y="405.3" class="cbl">2</text>
<text x="693.5" y="431.3" class="cbl">0</text>
<text x="693.5" y="457.3" class="cbl">−2</text>
<text x="693.5" y="483.4" class="cbl">−4</text>
<text x="693.5" y="509.4" class="cbl">−6</text>
<text x="693.5" y="535.4" class="cbl">−8</text>
<text x="4.3" y="614.6" class="foot" textLength="103.5" lengthAdjust="spacingAndGlyphs">GrADS: IGES/COLA</text>
</svg>
</body></html>
